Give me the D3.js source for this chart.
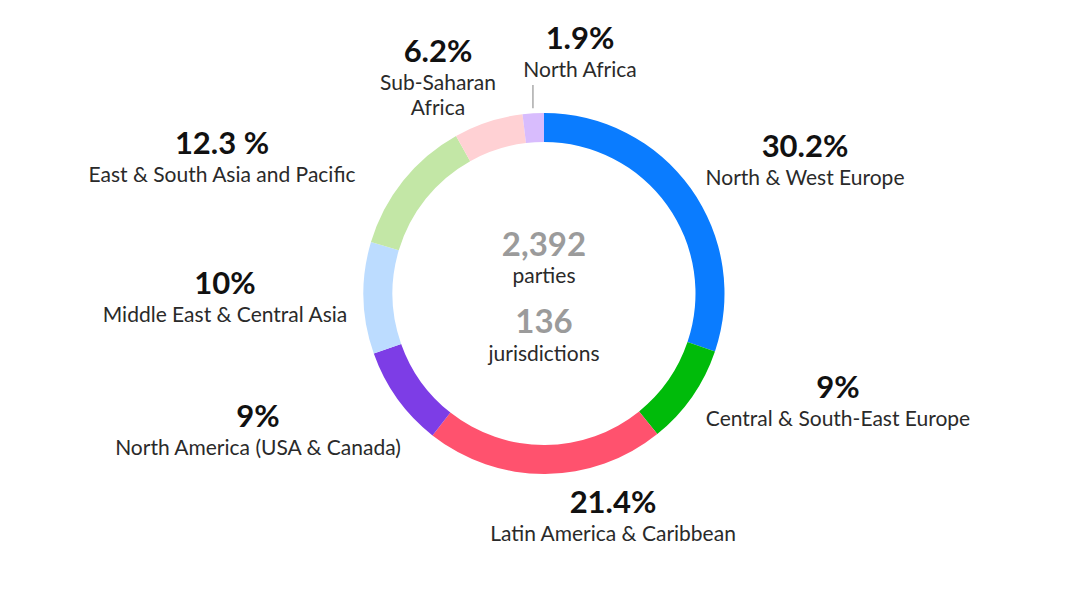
<!DOCTYPE html>
<html>
<head>
<meta charset="utf-8">
<script src="https://cdn.jsdelivr.net/npm/d3@7"></script>
<style>
  html, body { margin: 0; padding: 0; background: #fff; }
  svg { display: block; font-family: Lato, "Open Sans", sans-serif; }
  .pct { font-weight: 700; fill: #111; font-size: 31px; }
  .lbl { fill: #2a2a2a; font-size: 21px; }
  .big { font-weight: 700; fill: #9b9b9b; font-size: 33px; }
  .sub { fill: #2a2a2a; font-size: 21px; }
</style>
</head>
<body>
<div id="chart"></div>
<script>
// regions, clockwise from 12 o'clock
var regions = ["North & West Europe", "Central & South-East Europe", "Latin America & Caribbean",
  "North America (USA & Canada)", "Middle East & Central Asia", "East & South Asia and Pacific",
  "Sub-Saharan Africa", "North Africa"];
var shares = [30.2, 9, 21.4, 9, 10, 12.3, 6.2, 1.9];
var pctLabels = ["30.2%", "9%", "21.4%", "9%", "10%", "12.3 %", "6.2%", "1.9%"];
var nameLines = [["North & West Europe"], ["Central & South-East Europe"], ["Latin America & Caribbean"],
  ["North America (USA & Canada)"], ["Middle East & Central Asia"], ["East & South Asia and Pacific"],
  ["Sub-Saharan", "Africa"], ["North Africa"]];
var colors = ["#0a7cff", "#00bb0a", "#ff526e", "#7d3de6", "#bcdcff", "#c3e7a6", "#ffd1d4", "#d8bcfd"];
var centerText = [["2,392", "parties"], ["136", "jurisdictions"]];

var width = 1080, height = 613;
var cx = 544, cy = 293.5, rOuter = 180.5, rInner = 151.5;

// label anchor spots (centre x, baseline of percent line)
var labelPos = [[805, 157], [838, 398], [613, 513], [258, 427], [225, 294], [222, 154], [438, 62], [580, 49]];

var svg = d3.select("#chart").append("svg")
  .attr("width", width).attr("height", height);

var pie = d3.pie().sort(null).value(function(d) { return d; });
var arc = d3.arc().innerRadius(rInner).outerRadius(rOuter);

var g = svg.append("g").attr("transform", "translate(" + cx + "," + cy + ")");
g.selectAll("path")
  .data(pie(shares))
  .enter().append("path")
  .attr("d", arc)
  .attr("fill", function(d, i) { return colors[i]; });

// labels
regions.forEach(function(r, i) {
  var p = labelPos[i];
  svg.append("text").attr("class", "pct")
    .attr("x", p[0]).attr("y", p[1]).attr("text-anchor", "middle")
    .text(pctLabels[i]);
  nameLines[i].forEach(function(line, j) {
    svg.append("text").attr("class", "lbl")
      .attr("x", p[0]).attr("y", p[1] + 28 + j * 25)
      .attr("text-anchor", "middle")
      .text(line);
  });
});

// leader for North Africa
var naArc = pie(shares)[7];
var naMid = (naArc.startAngle + naArc.endAngle) / 2;
var lx = cx + Math.sin(naMid) * (rOuter + 5);
svg.append("line")
  .attr("x1", lx).attr("x2", lx)
  .attr("y1", 85).attr("y2", cy - Math.cos(naMid) * (rOuter + 5))
  .attr("stroke", "#aaa").attr("stroke-width", 1.5);

// centre text
var cBase = [[256, 283], [333, 361]];
centerText.forEach(function(t, i) {
  svg.append("text").attr("class", "big").attr("x", cx).attr("y", cBase[i][0])
    .attr("text-anchor", "middle").text(t[0]);
  svg.append("text").attr("class", "sub").attr("x", cx).attr("y", cBase[i][1])
    .attr("text-anchor", "middle").text(t[1]);
});
</script>
</body>
</html>
